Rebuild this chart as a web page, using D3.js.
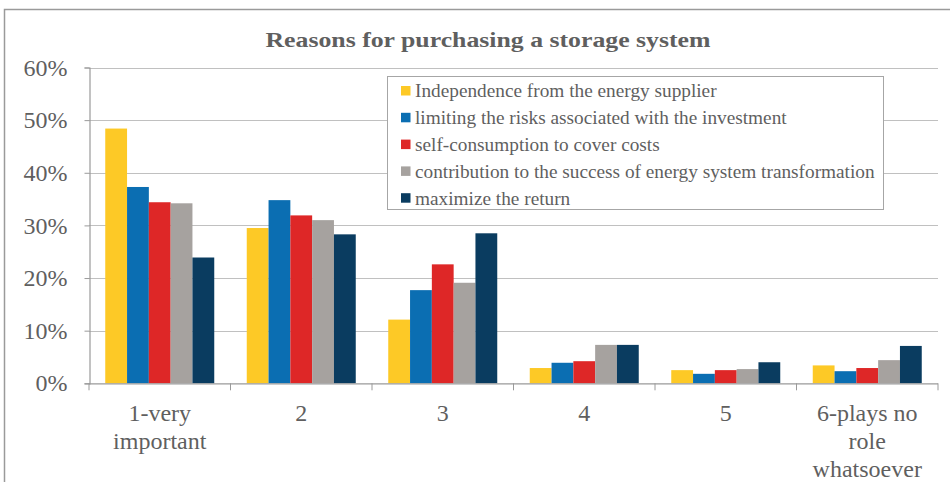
<!DOCTYPE html>
<html><head><meta charset="utf-8">
<script src="https://cdn.jsdelivr.net/npm/d3@7"></script>
</head><body style="margin:0">
<svg id="c" width="950" height="482"></svg>
<script>
const categories = [["1-very","important"],["2"],["3"],["4"],["5"],["6-plays no","role","whatsoever"]];
const seriesNames = ["Independence from the energy supplier","limiting the risks associated with the investment","self-consumption to cover costs","contribution to the success of energy system transformation","maximize the return"];
const seriesColors = ["#FDC926","#0B6EB2","#DE2727","#A6A29F","#0A3C60"];
const independence = [48.4,29.5,12.1,2.9,2.5,3.4];
const limitingRisks = [37.3,34.8,17.7,3.9,1.8,2.3];
const selfConsumption = [34.4,31.9,22.6,4.2,2.5,2.9];
const contribution = [34.2,31.0,19.1,7.3,2.7,4.4];
const maximizeReturn = [23.9,28.3,28.5,7.3,4.0,7.1];
const yTicks = [0,10,20,30,40,50,60];
const series = [independence,limitingRisks,selfConsumption,contribution,maximizeReturn];

const svg = d3.select("#c");
const txt = "#5f5f5f";
function ff(sel, size, bold){
  sel.style("font-family",'"Liberation Serif"').style("font-size",size+"px");
  if (bold) sel.style("font-weight","bold");
  return sel;
}

// outer frame
svg.append("path").attr("d","M4.5,482 V9.5 H950").attr("fill","none").attr("stroke","#9a9a9a").attr("stroke-width",1.5);

const x0 = 89, x1 = 938, yTop = 67.5, yBot = 383.3;
const y = d3.scaleLinear().domain([0,60]).range([yBot,yTop]);
const x = d3.scaleBand().domain(d3.range(categories.length)).range([x0,x1]);
const barW = 21.8;

// gridlines
svg.append("g").selectAll("line").data(yTicks.filter(d=>d>0)).join("line")
  .attr("x1",x0).attr("x2",x1).attr("y1",d=>Math.round(y(d))+0.5).attr("y2",d=>Math.round(y(d))+0.5)
  .attr("stroke","#c0c0c0").attr("stroke-width",1.2);

// bars
const groups = svg.append("g").selectAll("g").data(series).join("g").attr("fill",(d,i)=>seriesColors[i]);
groups.each(function(vals,si){
  d3.select(this).selectAll("rect").data(vals).join("rect")
    .attr("x",(v,ci)=>x(ci)+ (x.bandwidth()-series.length*barW)/2 + si*barW)
    .attr("width",barW)
    .attr("y",v=>y(v)).attr("height",v=>yBot-y(v));
});

// y axis
const yAxis = d3.axisLeft(y).tickValues(yTicks).tickFormat(d=>d+"%").tickSize(5).tickPadding(17);
const ya = svg.append("g").attr("transform",`translate(${x0+0.5},0)`).call(yAxis);
ya.attr("font-family",null).attr("font-size",null);
ya.select(".domain").attr("stroke","#9a9a9a").attr("stroke-width",1.2);
ya.selectAll(".tick line").attr("stroke","#9a9a9a");
ff(ya.selectAll("text"),24).attr("fill",txt);

// x axis
const xa = svg.append("g").attr("transform",`translate(0,${yBot})`);
xa.append("line").attr("x1",x0).attr("x2",x1).attr("y1",0.5).attr("y2",0.5).attr("stroke","#9a9a9a").attr("stroke-width",1.2);
xa.selectAll("line.t").data(d3.range(categories.length+1)).join("line").attr("class","t")
  .attr("x1",i=>x0+i*x.bandwidth()).attr("x2",i=>x0+i*x.bandwidth()).attr("y1",0).attr("y2",7).attr("stroke","#9a9a9a");
const lbl = xa.selectAll("text").data(categories).join("text")
  .attr("x",(d,i)=>x(i)+x.bandwidth()/2).attr("y",37.5)
  .attr("text-anchor","middle").attr("fill",txt);
ff(lbl,24);
lbl.selectAll("tspan").data(d=>d).join("tspan").attr("x",function(){return d3.select(this.parentNode).attr("x");})
  .attr("dy",(d,i)=>i===0?0:28).text(d=>d);

// title
ff(svg.append("text"),21,true).attr("x",488).attr("y",46.7).attr("text-anchor","middle")
  .attr("fill",txt)
  .attr("textLength",445).attr("lengthAdjust","spacingAndGlyphs")
  .text("Reasons for purchasing a storage system");

// legend
const lg = svg.append("g");
lg.append("rect").attr("x",387.5).attr("y",76.5).attr("width",496).attr("height",133).attr("fill","#fff").attr("stroke","#a6a6a6");
const items = lg.selectAll("g").data(seriesNames).join("g").attr("transform",(d,i)=>`translate(401,${97.3+i*26.8})`);
items.append("rect").attr("x",0).attr("y",-11.3).attr("width",9.5).attr("height",9.5).attr("fill",(d,i)=>seriesColors[i]);
ff(items.append("text"),19.3).attr("x",14).attr("y",0).attr("fill",txt).text(d=>d);
</script>
</body></html>
